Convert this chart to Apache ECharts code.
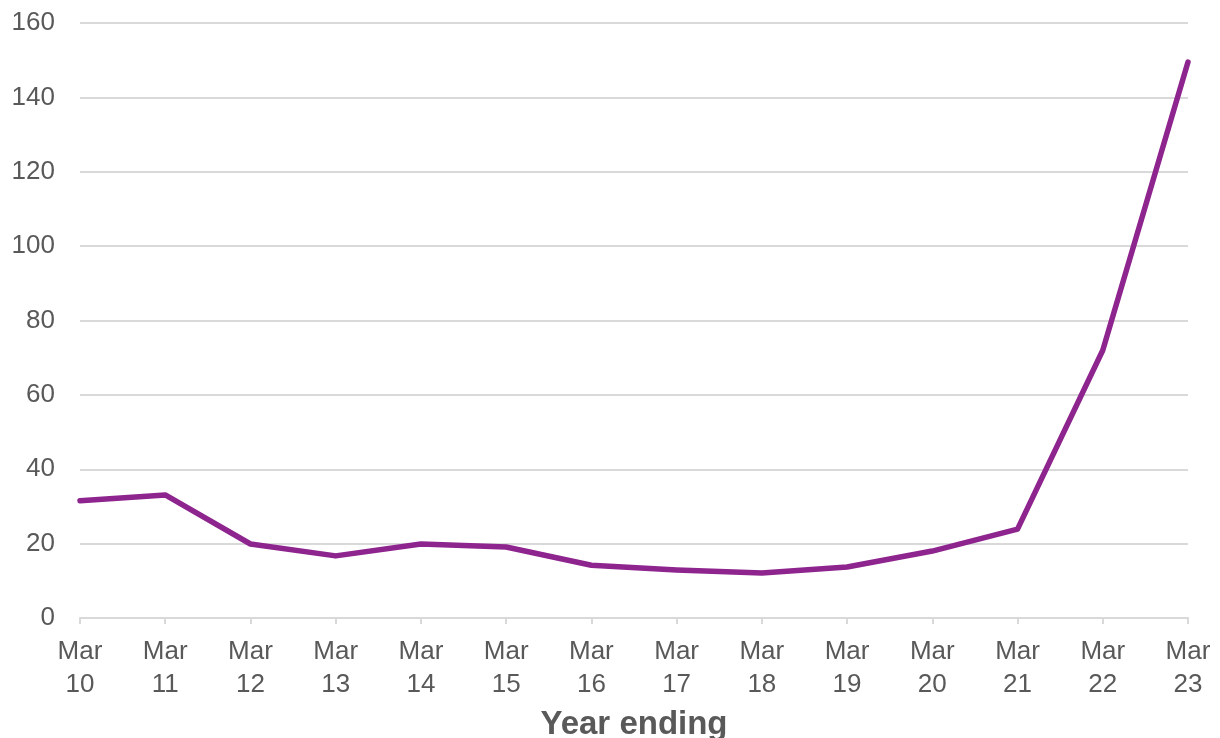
<!DOCTYPE html>
<html><head><meta charset="utf-8">
<script src="https://cdn.jsdelivr.net/npm/echarts@6/dist/echarts.min.js"></script>
<style>html,body{margin:0;padding:0;background:#fff}#c{width:1220px;height:738px}</style>
</head><body><div id="c"></div>
<script>
const categories = ["Mar\n10","Mar\n11","Mar\n12","Mar\n13","Mar\n14","Mar\n15","Mar\n16","Mar\n17","Mar\n18","Mar\n19","Mar\n20","Mar\n21","Mar\n22","Mar\n23"];
const values = [31.5, 33.1, 19.9, 16.7, 19.9, 19.1, 14.2, 12.9, 12.1, 13.7, 18.0, 23.9, 72.0, 149.5];
const xTitle = "Year ending";

const chart = echarts.init(document.getElementById('c'));
const font = '"Liberation Sans", Arial, sans-serif';
chart.setOption({
  animation: false,
  grid: {left: 80, right: 32, top: 23, bottom: 120, containLabel: false, outerBoundsMode: 'none'},
  xAxis: {
    type: 'category', data: categories, boundaryGap: false,
    name: xTitle, nameLocation: 'middle', nameGap: 90,
    nameTextStyle: {fontFamily: font, fontSize: 33, fontWeight: 'bold', color: '#595959'},
    axisLine: {lineStyle: {color: '#d9d9d9', width: 2}},
    axisTick: {show: true, length: 6, lineStyle: {color: '#d9d9d9', width: 2}},
    axisLabel: {fontFamily: font, fontSize: 26, color: '#595959', lineHeight: 33, margin: 17, interval: 0}
  },
  yAxis: {
    type: 'value', min: 0, max: 160, interval: 20,
    axisLine: {show: false}, axisTick: {show: false},
    splitLine: {lineStyle: {color: '#d9d9d9', width: 2}},
    axisLabel: {fontFamily: font, fontSize: 26, color: '#595959', margin: 25}
  },
  series: [{
    type: 'line', data: values, symbol: 'none',
    lineStyle: {color: '#8e248e', width: 5.5, cap: 'round', join: 'round'}
  }]
});
</script></body></html>
